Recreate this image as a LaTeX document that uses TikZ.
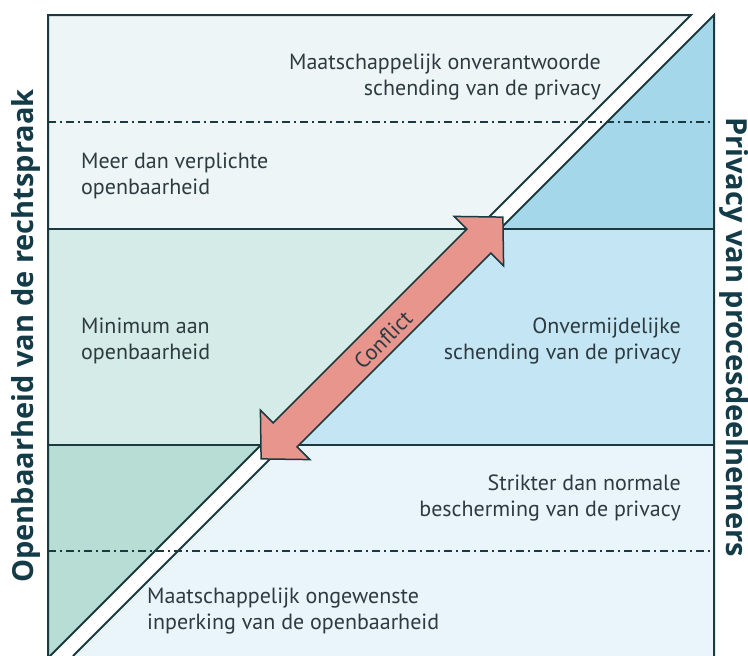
\documentclass[tikz,border=0pt]{standalone}
\usepackage{fontspec}
\setmainfont{PT Sans}
\newfontfamily\sidefont{Open Sans}
\definecolor{lineC}{HTML}{1B3A40}
\definecolor{txtC}{HTML}{2D3A3F}
\definecolor{labC}{HTML}{143C48}
\definecolor{ltop}{HTML}{EDF5F7}
\definecolor{lmid}{HTML}{D5EBE7}
\definecolor{lbot}{HTML}{B7DDD5}
\definecolor{rtop}{HTML}{A3D7E9}
\definecolor{rmid}{HTML}{C4E6F4}
\definecolor{rbot}{HTML}{EAF4FB}
\definecolor{arrC}{HTML}{E8958E}
\tikzset{
  border/.style={draw=lineC, line width=2pt, line join=miter},
  dashdot/.style={draw=lineC, line width=1.4pt, dash pattern=on 8pt off 4pt on 2pt off 4pt},
  lbl/.style={text=txtC, font=\fontsize{22}{26}\selectfont, inner sep=0pt},
  side/.style={text=labC, font=\sidefont\fontsize{29}{32}\selectfont\bfseries, inner sep=0pt},
}
\begin{document}
\begin{tikzpicture}[x=1pt,y=-1pt]
\useasboundingbox (0,0) rectangle (748,656);
% left region fills
\fill[ltop] (48,15) -- (691,15) -- (477,229) -- (48,229) -- cycle;
\fill[lmid] (48,229) -- (477,229) -- (261,445) -- (48,445) -- cycle;
\fill[lbot] (48,445) -- (261,445) -- (50,656) -- (48,656) -- cycle;
% right region fills
\fill[rtop] (714,15) -- (714,229) -- (500,229) -- cycle;
\fill[rmid] (500,229) -- (714,229) -- (714,445) -- (284,445) -- cycle;
\fill[rbot] (284,445) -- (714,445) -- (714,656) -- (73,656) -- cycle;
% dash-dot lines
\draw[dashdot] (48,122) -- (714,122);
\draw[dashdot] (48,551) -- (714,551);
% solid horizontal lines
\draw[border] (48,229) -- (477,229);
\draw[border] (500,229) -- (714,229);
\draw[border] (48,445) -- (261,445);
\draw[border] (284,445) -- (714,445);
% region outlines
\draw[border] (48,656) -- (48,15) -- (691,15) -- (50,656);
\draw[border] (73,656) -- (714,15) -- (714,656);
% conflict arrow
\draw[draw=lineC, line width=1.5pt, fill=arrC, line join=miter]
  (502.9,217.1) -- (503.6,265.8) -- (490.9,253.1) -- (297.1,446.9) -- (309.8,459.6)
  -- (261.1,458.9) -- (260.4,410.2) -- (273.1,422.9) -- (466.9,229.1) -- (454.2,216.4) -- cycle;
\node[lbl, rotate=45] (conf) at (383,340) {Conflict};
% labels
\node[lbl, anchor=east, align=right] (t1) at (601,77) {Maatschappelijk onverantwoorde\\schending van de privacy};
\node[lbl, anchor=west, align=left] (t2) at (81,176) {Meer dan verplichte\\openbaarheid};
\node[lbl, anchor=west, align=left] (t3) at (81,341) {Minimum aan\\openbaarheid};
\node[lbl, anchor=east, align=right] (t4) at (681,341) {Onvermijdelijke\\schending van de privacy};
\node[lbl, anchor=east, align=right] (t5) at (681,498) {Strikter dan normale\\bescherming van de privacy};
\node[lbl, anchor=west, align=left] (t6) at (147,611) {Maatschappelijk ongewenste\\inperking van de openbaarheid};
% side labels
\node[side, rotate=90] (sl) at (26,336) {Openbaarheid van de rechtspraak};
\node[side, rotate=-90] (sr) at (734,337) {Privacy van procesdeelnemers};
\end{tikzpicture}
\end{document}
